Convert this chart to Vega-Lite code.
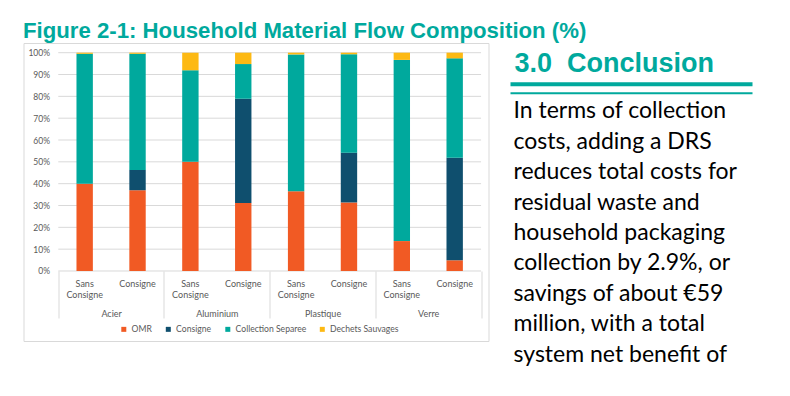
{
  "$schema": "https://vega.github.io/schema/vega-lite/v6.json",
  "background": "white",
  "padding": {"left": 22.5, "top": 20, "right": 0, "bottom": 0},
  "title": {
    "text": "Figure 2-1: Household Material Flow Composition (%)",
    "anchor": "start",
    "font": "Liberation Sans",
    "fontSize": 22.2,
    "fontWeight": "bold",
    "color": "#00a99d",
    "offset": 0
  },
  "config": {
    "view": {"stroke": null},
    "axis": {"labelFont": "Lato", "labelColor": "#595959", "labelFontSize": 9}
  },
  "spacing": 19,
  "hconcat": [
    {
      "width": 465,
      "height": 298,
      "view": {"stroke": "#d9d9d9", "strokeWidth": 1, "fill": "white"},
      "layer": [
        {
          "data": {"values": [{"pct": 0}, {"pct": 10}, {"pct": 20}, {"pct": 30}, {"pct": 40}, {"pct": 50}, {"pct": 60}, {"pct": 70}, {"pct": 80}, {"pct": 90}, {"pct": 100}]},
          "mark": {"type": "rule", "color": "#d9d9d9", "strokeWidth": 1},
          "encoding": {
            "y": {
              "field": "pct", "type": "quantitative",
              "scale": {"domain": [-32.07, 104.44], "nice": false, "zero": false},
              "axis": {"values": [0, 10, 20, 30, 40, 50, 60, 70, 80, 90, 100], "labelExpr": "datum.value + '%'", "grid": false, "ticks": false, "domain": false, "labelPadding": 2, "offset": -28, "title": null, "labelFontSize": 8.5}
            },
            "x": {
              "datum": "Acier", "type": "nominal", "bandPosition": 0,
              "scale": {"domain": ["Acier", "Aluminium", "Plastique", "Verre"], "paddingInner": 0, "paddingOuter": 0.1996, "align": 0.824},
              "axis": {"orient": "bottom", "offset": -70, "tickBand": "extent", "ticks": true, "tickSize": 47, "tickColor": "#d9d9d9", "tickWidth": 1, "domain": false, "labelPadding": -9, "labelBaseline": "top", "labelAngle": 0, "labelOverlap": false, "title": null}
            },
            "x2": {"datum": "Verre", "bandPosition": 1}
          }
        },
        {
          "data": {"values": [
            {"bar": "Acier - Sans Consigne", "flow": "OMR", "value": 40},
            {"bar": "Acier - Sans Consigne", "flow": "Collection Separee", "value": 59.5},
            {"bar": "Acier - Sans Consigne", "flow": "Dechets Sauvages", "value": 0.5},
            {"bar": "Acier - Consigne", "flow": "OMR", "value": 37},
            {"bar": "Acier - Consigne", "flow": "Consigne", "value": 9.3},
            {"bar": "Acier - Consigne", "flow": "Collection Separee", "value": 53.2},
            {"bar": "Acier - Consigne", "flow": "Dechets Sauvages", "value": 0.5},
            {"bar": "Aluminium - Sans Consigne", "flow": "OMR", "value": 50},
            {"bar": "Aluminium - Sans Consigne", "flow": "Collection Separee", "value": 42},
            {"bar": "Aluminium - Sans Consigne", "flow": "Dechets Sauvages", "value": 8},
            {"bar": "Aluminium - Consigne", "flow": "OMR", "value": 31.2},
            {"bar": "Aluminium - Consigne", "flow": "Consigne", "value": 47.7},
            {"bar": "Aluminium - Consigne", "flow": "Collection Separee", "value": 15.9},
            {"bar": "Aluminium - Consigne", "flow": "Dechets Sauvages", "value": 5.2},
            {"bar": "Plastique - Sans Consigne", "flow": "OMR", "value": 36.5},
            {"bar": "Plastique - Sans Consigne", "flow": "Collection Separee", "value": 62.7},
            {"bar": "Plastique - Sans Consigne", "flow": "Dechets Sauvages", "value": 0.8},
            {"bar": "Plastique - Consigne", "flow": "OMR", "value": 31.4},
            {"bar": "Plastique - Consigne", "flow": "Consigne", "value": 22.8},
            {"bar": "Plastique - Consigne", "flow": "Collection Separee", "value": 45.1},
            {"bar": "Plastique - Consigne", "flow": "Dechets Sauvages", "value": 0.7},
            {"bar": "Verre - Sans Consigne", "flow": "OMR", "value": 13.7},
            {"bar": "Verre - Sans Consigne", "flow": "Collection Separee", "value": 83},
            {"bar": "Verre - Sans Consigne", "flow": "Dechets Sauvages", "value": 3.3},
            {"bar": "Verre - Consigne", "flow": "OMR", "value": 4.9},
            {"bar": "Verre - Consigne", "flow": "Consigne", "value": 47},
            {"bar": "Verre - Consigne", "flow": "Collection Separee", "value": 45.5},
            {"bar": "Verre - Consigne", "flow": "Dechets Sauvages", "value": 2.6}
          ]},
          "transform": [
            {"calculate": "indexof(['OMR', 'Consigne', 'Collection Separee', 'Dechets Sauvages'], datum.flow)", "as": "rank"}
          ],
          "mark": {"type": "bar"},
          "encoding": {
            "x": {
              "field": "bar", "type": "nominal", "sort": null,
              "scale": {"paddingInner": 0.69, "paddingOuter": 0.7435, "align": 0.674},
              "axis": {"orient": "bottom", "offset": -70, "ticks": false, "domain": false, "labelAngle": 0, "labelPadding": 8, "labelBaseline": "top", "labelLineHeight": 11.5, "labelOverlap": false, "labelExpr": "indexof(datum.label, 'Sans') >= 0 ? ['Sans', 'Consigne'] : 'Consigne'", "title": null}
            },
            "y": {
              "field": "value", "type": "quantitative", "stack": "zero",
              "scale": {"domain": [-32.07, 104.44], "nice": false, "zero": false},
              "axis": {"values": [0, 10, 20, 30, 40, 50, 60, 70, 80, 90, 100], "labelExpr": "datum.value + '%'", "grid": false, "ticks": false, "domain": false, "labelPadding": 2, "offset": -28, "title": null, "labelFontSize": 8.5}
            },
            "color": {
              "field": "flow", "type": "nominal",
              "scale": {"domain": ["OMR", "Consigne", "Collection Separee", "Dechets Sauvages"], "range": ["#f15a24", "#0f4f6e", "#00a99d", "#fdb913"]},
              "legend": {"orient": "none", "legendX": 96, "legendY": 282, "direction": "horizontal", "columns": 4, "title": null, "symbolType": "square", "symbolSize": 25, "symbolStrokeWidth": 0, "labelFont": "Lato", "labelFontSize": 8.6, "labelColor": "#595959", "columnPadding": 11.5, "labelOffset": 3.5, "padding": 0}
            },
            "order": {"field": "rank", "type": "quantitative"}
          }
        }
      ],
      "resolve": {"scale": {"x": "independent"}, "axis": {"x": "independent"}}
    },
    {
      "width": 242,
      "height": 330,
      "layer": [
        {
          "data": {"values": [{}]},
          "mark": {"type": "rule", "color": "#00a99d", "strokeWidth": 4},
          "encoding": {"y": {"datum": -0.12, "type": "quantitative", "scale": {"domain": [-1.477, 9.378], "reverse": true, "nice": false, "zero": false}, "axis": null}}
        },
        {
          "data": {"values": [{}]},
          "mark": {"type": "rule", "color": "#00a99d", "strokeWidth": 2},
          "encoding": {"y": {"datum": 0.18, "type": "quantitative", "scale": {"domain": [-1.477, 9.378], "reverse": true, "nice": false, "zero": false}, "axis": null}}
        },
        {
          "data": {"values": [{"line": 0, "text": "3.0\u00a0 Conclusion"}]},
          "mark": {"type": "text", "font": "Liberation Sans", "fontSize": 27, "fontWeight": "bold", "color": "#00a99d", "align": "left", "baseline": "alphabetic", "dx": 4, "dy": -16},
          "encoding": {
            "x": {"datum": 0, "type": "quantitative", "scale": {"domain": [0, 1]}, "axis": null},
            "y": {"field": "line", "type": "quantitative", "scale": {"domain": [-1.477, 9.378], "reverse": true, "nice": false, "zero": false}, "axis": null},
            "text": {"field": "text"}
          }
        },
        {
          "data": {"values": [
            {"line": 1, "text": "In terms of collection"},
            {"line": 2, "text": "costs, adding a DRS"},
            {"line": 3, "text": "reduces total costs for"},
            {"line": 4, "text": "residual waste and"},
            {"line": 5, "text": "household packaging"},
            {"line": 6, "text": "collection by 2.9%, or"},
            {"line": 7, "text": "savings of about €59"},
            {"line": 8, "text": "million, with a total"},
            {"line": 9, "text": "system net benefit of"}
          ]},
          "mark": {"type": "text", "font": "Lato", "fontSize": 23, "color": "#000000", "align": "left", "baseline": "alphabetic", "dx": 3},
          "encoding": {
            "x": {"datum": 0, "type": "quantitative", "scale": {"domain": [0, 1]}, "axis": null},
            "y": {"field": "line", "type": "quantitative", "scale": {"domain": [-1.477, 9.378], "reverse": true, "nice": false, "zero": false}, "axis": null},
            "text": {"field": "text"}
          }
        }
      ]
    }
  ]
}
